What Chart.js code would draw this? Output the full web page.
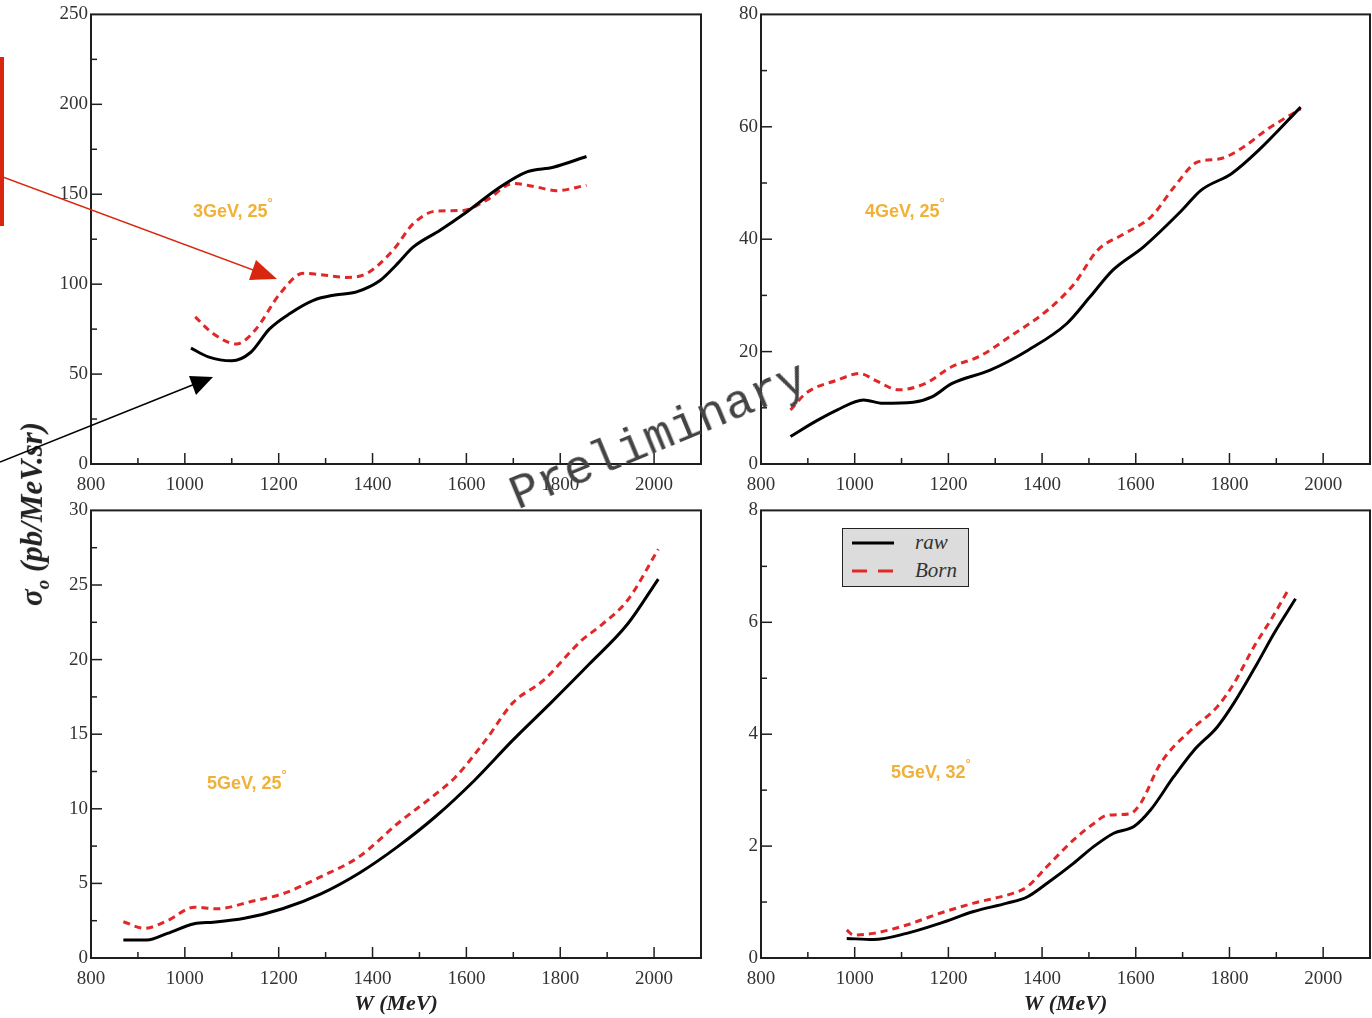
<!DOCTYPE html>
<html>
<head>
<meta charset="utf-8">
<script src="https://cdn.jsdelivr.net/npm/chart.js@4.4.1/dist/chart.umd.min.js"></script>
<style>
  body { margin: 0; background: #fff; }
  #page { position: relative; width: 1372px; height: 1018px; overflow: hidden; background: #fff; }
  canvas { position: absolute; }
  .tag { position: absolute; font-family: 'Liberation Sans', Arial, sans-serif; font-weight: bold; font-size: 18px; color: #f0b13a; white-space: nowrap; }
  .tag sup { font-size: 13px; position: relative; top: -3px; }
  #ytitle { position: absolute; left: 34px; top: 514px; transform: translate(-50%, -50%) rotate(-90deg);
    font-family: 'Liberation Serif', 'DejaVu Serif', serif; font-weight: bold; font-style: italic; font-size: 31px; color: #222; white-space: nowrap; }
  #ytitle sub { font-size: 19px; }
  #watermark { position: absolute; left: 659px; top: 437px; transform: translate(-50%, -50%) rotate(-22.5deg);
    font-family: 'Liberation Mono', 'DejaVu Sans Mono', monospace; font-size: 48px; color: #444; white-space: nowrap; }
  #legend { position: absolute; left: 842px; top: 528px; width: 125px; height: 57px; background: #dcdcdc; border: 1.5px solid #222; }
  #legend span { position: absolute; left: 72px; font-family: 'Liberation Serif', 'DejaVu Serif', serif; font-style: italic; font-size: 21px; color: #333; }
  #marks { position: absolute; left: 0; top: 0; pointer-events: none; }
</style>
</head>
<body>
<div id="page">
  <canvas id="c1" width="712" height="500" style="left:0;top:0"></canvas>
  <canvas id="c2" width="680" height="500" style="left:700px;top:0"></canvas>
  <canvas id="c3" width="712" height="522" style="left:0;top:496px"></canvas>
  <canvas id="c4" width="680" height="522" style="left:700px;top:496px"></canvas>

  <div class="tag" style="left:193px;top:198px">3GeV, 25<sup>°</sup></div>
  <div class="tag" style="left:865px;top:198px">4GeV, 25<sup>°</sup></div>
  <div class="tag" style="left:207px;top:770px">5GeV, 25<sup>°</sup></div>
  <div class="tag" style="left:891px;top:759px">5GeV, 32<sup>°</sup></div>

  <div id="ytitle">σ<sub>o</sub> (pb/MeV.sr)</div>

  <div id="legend">
    <svg width="125" height="57" style="position:absolute;left:0;top:0">
      <line x1="9" y1="14" x2="51" y2="14" stroke="#000" stroke-width="3"/>
      <line x1="9" y1="42" x2="51" y2="42" stroke="#e02828" stroke-width="3" stroke-dasharray="15,11"/>
    </svg>
    <span style="top:1px">raw</span>
    <span style="top:29px">Born</span>
  </div>

  <svg id="marks" width="1372" height="1018">
    <rect x="0" y="57" width="4" height="169" fill="#d9260f"/>
    <line x1="0" y1="176" x2="256" y2="271" stroke="#d9260f" stroke-width="1.5"/>
    <polygon points="277,279 249,280 256,260" fill="#d9260f"/>
    <line x1="0" y1="462" x2="195" y2="384" stroke="#000" stroke-width="1.5"/>
    <polygon points="213,377 196,395 189,376" fill="#000"/>
  </svg>

  <div id="watermark">Preliminary</div>
</div>

<script>
// 3GeV, 25 deg
const w1Raw = [1013, 1050, 1100, 1140, 1180, 1224, 1274, 1320, 1366, 1416, 1450, 1487, 1544, 1600, 1672, 1729, 1785, 1856];
const raw1 = [64.4, 59.6, 57.4, 62, 75, 83.7, 91, 94, 95.7, 102, 110.5, 120.7, 130, 140, 154, 162.4, 165, 171];
const w1Born = [1022, 1060, 1110, 1150, 1203, 1252, 1300, 1345, 1388, 1444, 1487, 1537, 1593, 1643, 1700, 1750, 1792, 1856];
const born1 = [81.8, 72.6, 66.7, 74.5, 94.8, 106, 105, 103.7, 106, 119, 133.7, 140.7, 141, 146.7, 156, 154, 152, 155];

// 4GeV, 25 deg
const w2Raw = [863, 921, 962, 1019, 1060, 1125, 1166, 1207, 1289, 1371, 1453, 1502, 1551, 1616, 1699, 1739, 1805, 1862, 1952];
const raw2 = [4.9, 7.8, 9.6, 11.4, 10.8, 11.0, 12.0, 14.3, 16.7, 20.3, 25.0, 29.7, 34.5, 38.6, 45.2, 48.7, 51.7, 55.8, 63.5];
const w2Born = [863, 896, 962, 1011, 1044, 1093, 1150, 1207, 1265, 1330, 1412, 1469, 1518, 1576, 1633, 1682, 1731, 1780, 1830, 1878, 1952];
const born2 = [9.6, 12.6, 14.9, 16.1, 14.9, 13.2, 14.3, 17.3, 19.1, 22.6, 27.4, 32.1, 38.0, 41.0, 44.0, 49.3, 53.7, 54.3, 56.4, 59.4, 63.2];

// 5GeV, 25 deg
const w3Raw = [869, 919, 963, 1020, 1061, 1127, 1208, 1290, 1372, 1453, 1535, 1617, 1699, 1780, 1862, 1944, 2009];
const raw3 = [1.2, 1.2, 1.65, 2.3, 2.4, 2.66, 3.3, 4.3, 5.7, 7.45, 9.5, 11.9, 14.6, 17.1, 19.7, 22.4, 25.4];
const w3Born = [869, 914, 963, 1020, 1069, 1143, 1208, 1290, 1372, 1453, 1535, 1576, 1641, 1699, 1764, 1846, 1887, 1944, 2009];
const born3 = [2.43, 1.99, 2.5, 3.4, 3.3, 3.8, 4.3, 5.45, 6.8, 9.0, 11.0, 12.1, 14.6, 17.1, 18.6, 21.3, 22.3, 24.0, 27.4];

// 5GeV, 32 deg
const w4Raw = [983, 1040, 1111, 1182, 1254, 1325, 1368, 1410, 1467, 1510, 1553, 1596, 1631, 1681, 1724, 1774, 1809, 1859, 1895, 1941];
const raw4 = [0.35, 0.33, 0.44, 0.62, 0.83, 0.98, 1.09, 1.33, 1.69, 1.99, 2.23, 2.35, 2.64, 3.24, 3.71, 4.13, 4.55, 5.26, 5.8, 6.42];
const w4Born = [983, 997, 1040, 1111, 1182, 1254, 1339, 1368, 1410, 1467, 1510, 1539, 1588, 1610, 1653, 1717, 1774, 1809, 1852, 1888, 1927];
const born4 = [0.5, 0.41, 0.44, 0.59, 0.8, 0.98, 1.16, 1.27, 1.63, 2.11, 2.4, 2.55, 2.58, 2.76, 3.48, 4.07, 4.49, 4.9, 5.56, 6.04, 6.6];

// axis ranges and tick steps (y max, major step, minor step)
const wMin = 800, wMax = 2100, wMajor = 200, wMinor = 100;
const yMax = [250, 80, 30, 8];
const yMajor = [50, 20, 5, 2];
const yMinor = [25, 10, 2.5, 1];

const serif = "'Liberation Serif', 'DejaVu Serif', serif";

function pts(xs, ys) {
  return xs.map((x, i) => ({ x: x, y: ys[i] }));
}

function isMajor(v, step) {
  const r = v / step;
  return Math.abs(r - Math.round(r)) < 1e-6;
}

// frame box plus the inward ticks, placed from the scales' own ticks
const frameTicks = {
  id: 'frameTicks',
  afterDatasetsDraw(chart, args, opts) {
    const { ctx, chartArea: a, scales } = chart;
    const x = scales.x, y = scales.y;
    ctx.save();
    ctx.strokeStyle = '#1e1e1e';
    ctx.lineWidth = 1.5;
    x.ticks.forEach((t) => {
      if (t.value <= wMin || t.value >= wMax) return;
      const px = x.getPixelForValue(t.value);
      const len = isMajor(t.value, wMajor) ? 11 : 6;
      ctx.beginPath();
      ctx.moveTo(px, a.bottom);
      ctx.lineTo(px, a.bottom - len);
      ctx.stroke();
    });
    y.ticks.forEach((t) => {
      if (t.value <= 0 || t.value >= opts.max) return;
      const py = y.getPixelForValue(t.value);
      const len = isMajor(t.value, opts.major) ? 11 : 6;
      ctx.beginPath();
      ctx.moveTo(a.left, py);
      ctx.lineTo(a.left + len, py);
      ctx.stroke();
    });
    ctx.lineWidth = 2;
    ctx.strokeRect(a.left, a.top, a.right - a.left, a.bottom - a.top);
    ctx.restore();
  }
};

function makePanel(id, idx, rawX, rawY, bornX, bornY, yAxisW, rightPad, xAxisH, withTitle) {
  const ctx = document.getElementById(id).getContext('2d');
  return new Chart(ctx, {
    type: 'line',
    data: {
      datasets: [
        {
          label: 'raw',
          data: pts(rawX, rawY),
          borderColor: '#000',
          borderWidth: 3,
          pointRadius: 0,
          fill: false,
          cubicInterpolationMode: 'monotone'
        },
        {
          label: 'Born',
          data: pts(bornX, bornY),
          borderColor: '#e02828',
          borderWidth: 3,
          borderDash: [7, 5],
          pointRadius: 0,
          fill: false,
          cubicInterpolationMode: 'monotone'
        }
      ]
    },
    options: {
      responsive: false,
      animation: false,
      layout: { padding: { left: 0, right: rightPad, top: 14, bottom: 0 } },
      plugins: {
        legend: { display: false },
        tooltip: { enabled: false },
        frameTicks: { max: yMax[idx], major: yMajor[idx] }
      },
      scales: {
        x: {
          type: 'linear',
          min: wMin,
          max: wMax,
          grid: { display: false, drawTicks: false },
          border: { display: false },
          ticks: {
            stepSize: wMinor,
            autoSkip: false,
            maxRotation: 0,
            padding: 10,
            color: '#333',
            font: { family: serif, size: 19 },
            callback: (v) => (isMajor(v, wMajor) && v <= 2000 ? String(v) : '')
          },
          title: {
            display: withTitle,
            text: 'W (MeV)',
            color: '#222',
            font: { family: serif, size: 22, style: 'italic', weight: 'bold' },
            padding: { top: 0, bottom: 0 }
          },
          afterFit: (s) => { s.height = xAxisH; }
        },
        y: {
          type: 'linear',
          min: 0,
          max: yMax[idx],
          grid: { display: false, drawTicks: false },
          border: { display: false },
          ticks: {
            stepSize: yMinor[idx],
            autoSkip: false,
            padding: 3,
            color: '#333',
            font: { family: serif, size: 19 },
            callback: (v) => (isMajor(v, yMajor[idx]) ? String(v) : '')
          },
          afterFit: (s) => { s.width = yAxisW; }
        }
      }
    },
    plugins: [frameTicks]
  });
}

makePanel('c1', 0, w1Raw, raw1, w1Born, born1, 91, 11, 36, false);
makePanel('c2', 1, w2Raw, raw2, w2Born, born2, 61, 6, 36, false);
makePanel('c3', 2, w3Raw, raw3, w3Born, born3, 91, 11, 60, true);
makePanel('c4', 3, w4Raw, raw4, w4Born, born4, 61, 6, 60, true);
</script>
</body>
</html>
